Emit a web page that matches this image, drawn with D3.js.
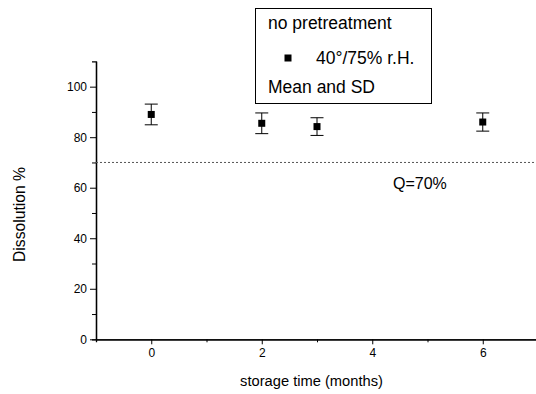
<!DOCTYPE html>
<html><head><meta charset="utf-8">
<script src="https://cdn.jsdelivr.net/npm/d3@7"></script>
<style>body{margin:0;background:#fff}svg{display:block}text{font-family:"Liberation Sans",Arial,sans-serif}</style>
</head><body><svg id="c" width="536" height="394"></svg>
<script>
const months = [0, 2, 3, 6];
const meanValues = [89.0, 85.5, 84.2, 86.0];
const sdValues = [4.1, 4.1, 3.5, 3.6];
const xTickValues = [0, 2, 4, 6];
const yTickValues = [0, 20, 40, 60, 80, 100];
const qLimit = 70;

const svg = d3.select("#c");
const x = d3.scaleLinear().domain([-1, 7]).range([96, 538]);
const y = d3.scaleLinear().domain([0, 110]).range([339.3, 61.4]);

// axes
const xAxis = svg.append("g").attr("transform", `translate(0,${y(0)})`);
xAxis.call(d3.axisBottom(x).tickValues(xTickValues).tickSize(5).tickSizeOuter(0).tickPadding(4));
xAxis.append("g").call(d3.axisBottom(x).tickValues([1,3,5]).tickSize(3).tickFormat(""));
const yAxis = svg.append("g").attr("transform", `translate(${x(-1)},0)`);
yAxis.call(d3.axisLeft(y).tickValues(yTickValues).tickSize(6).tickSizeOuter(0).tickPadding(3));
yAxis.append("g").call(d3.axisLeft(y).tickValues([10,30,50,70,90]).tickSize(4).tickFormat(""));
svg.selectAll(".domain").attr("stroke", "#000").attr("stroke-width", 1.3);
svg.selectAll(".tick line").attr("stroke", "#000");
svg.selectAll(".tick text").attr("font-size", 12).attr("fill", "#000").attr("font-family", "Liberation Sans, Arial, sans-serif");

// Q line
svg.append("line").attr("x1", x(-1)).attr("x2", x(7)).attr("y1", y(qLimit)).attr("y2", y(qLimit))
  .attr("stroke", "#555").attr("stroke-width", 1).attr("stroke-dasharray", "2,2");
svg.append("text").attr("x", 393).attr("y", 189).attr("font-size", 16).text("Q=70%");

// error bars
const g = svg.append("g");
months.forEach((m, i) => {
  const cx = x(m), lo = y(meanValues[i] - sdValues[i]), hi = y(meanValues[i] + sdValues[i]);
  g.append("line").attr("x1", cx).attr("x2", cx).attr("y1", lo).attr("y2", hi).attr("stroke", "#000");
  g.append("line").attr("x1", cx - 6.5).attr("x2", cx + 6.5).attr("y1", lo).attr("y2", lo).attr("stroke", "#000");
  g.append("line").attr("x1", cx - 6.5).attr("x2", cx + 6.5).attr("y1", hi).attr("y2", hi).attr("stroke", "#000");
  g.append("rect").attr("x", cx - 3.5).attr("y", y(meanValues[i]) - 3.5).attr("width", 7).attr("height", 7).attr("fill", "#000");
});

// labels
svg.append("text").attr("x", 311.5).attr("y", 386).attr("text-anchor", "middle").attr("font-size", 14.7).text("storage time (months)");
svg.append("text").attr("transform", "translate(25,214.5) rotate(-90)").attr("text-anchor", "middle").attr("font-size", 15.7).text("Dissolution %");

// legend
svg.append("rect").attr("x", 255.5).attr("y", 8.5).attr("width", 176).attr("height", 95).attr("fill", "#fff").attr("stroke", "#000");
svg.append("text").attr("x", 268).attr("y", 29).attr("font-size", 17.5).text("no pretreatment");
svg.append("rect").attr("x", 288 - 3.5).attr("y", 58 - 3.5).attr("width", 7).attr("height", 7).attr("fill", "#000");
svg.append("text").attr("x", 316).attr("y", 64).attr("font-size", 17.5).text("40°/75% r.H.");
svg.append("text").attr("x", 268).attr("y", 93).attr("font-size", 17.5).text("Mean and SD");
</script></body></html>
